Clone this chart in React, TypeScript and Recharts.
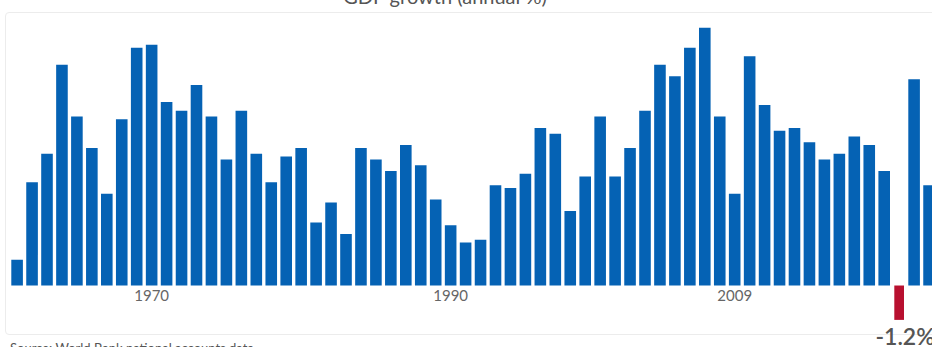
import { BarChart, Bar, XAxis, YAxis, Cell, Rectangle, LabelList } from 'recharts';

const years = [
    '1961', '1962', '1963', '1964', '1965', '1966', '1967', '1968', '1969', '1970',
    '1971', '1972', '1973', '1974', '1975', '1976', '1977', '1978', '1979', '1980',
    '1981', '1982', '1983', '1984', '1985', '1986', '1987', '1988', '1989', '1990',
    '1991', '1992', '1993', '1994', '1995', '1996', '1997', '1998', '1999', '2000',
    '2001', '2002', '2003', '2004', '2005', '2006', '2007', '2008', '2009', '2010',
    '2011', '2012', '2013', '2014', '2015', '2016', '2017', '2018', '2019', '2020',
    '2021', '2022'
];

// GDP growth (annual %)
const growth = [
    0.9, 3.6, 4.6, 7.7, 5.9, 4.8, 3.2, 5.8, 8.3, 8.4,
    6.4, 6.1, 7.0, 5.9, 4.4, 6.1, 4.6, 3.6, 4.5, 4.8,
    2.2, 2.9, 1.8, 4.8, 4.4, 4.0, 4.9, 4.2, 3.0, 2.1,
    1.5, 1.6, 3.5, 3.4, 3.9, 5.5, 5.3, 2.6, 3.8, 5.9,
    3.8, 4.8, 6.1, 7.7, 7.3, 8.3, 9.0, 5.9, 3.2, 8.0,
    6.3, 5.4, 5.5, 5.0, 4.4, 4.6, 5.2, 4.9, 4.0, -1.2,
    7.2, 3.5
];

const labelYears = ['1970', '1990', '2009'];

const data = years.map((year, i) => ({ year, growth: growth[i] }));

const BLUE = '#0562b4';
const RED = '#b8102f';
const FONT = 'Lato, "Open Sans", sans-serif';

const YearLabel = (props: any) => {
    const { x, y, width, height, value } = props;
    if (!labelYears.includes(String(value))) return null;
    const base = Math.max(y, y + height);
    return (
        <text x={x + width / 2} y={base + 15.7} textAnchor="middle" fill="#666" fontSize={15} fontFamily={FONT}>
            {value}
        </text>
    );
};

const GrowthBar = (props: any) => {
    const { x, width, value } = props;
    if (value < 0) {
        const w = 9.7;
        return <Rectangle {...props} x={x + (width - w) / 2} width={w} />;
    }
    return <Rectangle {...props} />;
};

const NegLabel = (props: any) => {
    const { x, y, width, height, value } = props;
    if (value >= 0) return null;
    const bottom = Math.max(y, y + height);
    return (
        <text
            x={x + width / 2 + 6}
            y={bottom + 25}
            textAnchor="middle"
            fill="#555"
            fontSize={23}
            fontWeight={600}
            fontFamily={FONT}
        >
            {value.toFixed(1)}%
        </text>
    );
};

export default function App() {
    return (
        <div
            style={{
                position: 'fixed',
                left: 0,
                top: 0,
                width: 932,
                height: 347,
                overflow: 'hidden',
                background: '#fff',
                fontFamily: FONT
            }}
        >
            <div
                style={{
                    position: 'absolute',
                    left: 5,
                    top: 12,
                    width: 960,
                    height: 321,
                    border: '1px solid #ececec',
                    borderRadius: 4
                }}
            />
            <div
                style={{
                    position: 'absolute',
                    left: 0,
                    width: 890,
                    top: -14,
                    textAlign: 'center',
                    fontSize: 20,
                    lineHeight: '20px',
                    color: '#555'
                }}
            >
                GDP growth (annual %)
            </div>
            <div
                style={{
                    position: 'absolute',
                    left: 10,
                    top: 340,
                    fontSize: 13,
                    lineHeight: '16px',
                    color: '#555'
                }}
            >
                Source: World Bank national accounts data
            </div>
            <div style={{ position: 'absolute', left: 0, top: 0 }}>
                <BarChart
                    width={940}
                    height={347}
                    data={data}
                    margin={{ top: 27.6, right: 3.8, bottom: 27.1, left: 9.3 }}
                    barSize={11.6}
                >
                    <XAxis dataKey="year" hide height={0} />
                    <YAxis hide domain={[-1.2, 9]} allowDataOverflow />
                    <Bar
                        dataKey="growth"
                        isAnimationActive={false}
                        shape={<GrowthBar />}
                    >
                        {data.map((d) => (
                            <Cell key={d.year} fill={d.growth < 0 ? RED : BLUE} />
                        ))}
                        <LabelList dataKey="year" content={<YearLabel />} />
                        <LabelList dataKey="growth" content={<NegLabel />} />
                    </Bar>
                </BarChart>
            </div>
        </div>
    );
}
